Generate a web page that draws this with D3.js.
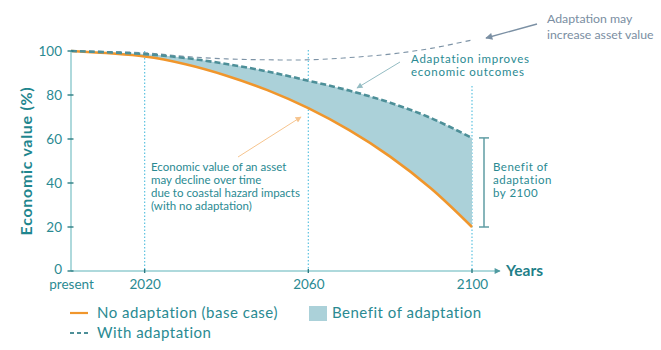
<!DOCTYPE html>
<html><head><meta charset="utf-8">
<script src="https://cdn.jsdelivr.net/npm/d3@7"></script>
<style>
html,body{margin:0;padding:0;background:#fff;}
svg{display:block;font-family:Lato,"Open Sans",sans-serif;}
</style></head>
<body><svg id="c" width="661" height="350"></svg>
<script>
const years = [2002, 2020, 2030, 2040, 2050, 2060, 2070, 2080, 2090, 2100];
const noAdaptation = [100, 97.5, 94, 88.8, 82.2, 74, 64, 52, 37.5, 20];
const withAdaptation = [100, 98.6, 96.8, 94.1, 90.7, 86.5, 82, 76.5, 69.5, 60.5];
const mayIncrease = [100, 99.2, 97.5, 96.4, 96, 96, 97, 98.6, 101.2, 105];
const yTicks = [0, 20, 40, 60, 80, 100];
const xTickYears = [2002, 2020, 2060, 2100];
const xTickLabels = ["present", "2020", "2060", "2100"];
const markerYears = [2020, 2060, 2100];

const svg = d3.select("#c");
const x = d3.scaleLinear().domain([2002, 2100]).range([71, 472]);
const y = d3.scaleLinear().domain([0, 100]).range([271, 51]);

const teal = "#2a8a92", axisC = "#93cdd0", tickC = "#2b7b82";
const defs = svg.append("defs");
function marker(id, color, w, h){
  defs.append("marker").attr("id", id).attr("viewBox","0 0 10 10").attr("refX",9).attr("refY",5)
   .attr("markerWidth",w).attr("markerHeight",h).attr("orient","auto").attr("markerUnits","userSpaceOnUse")
   .append("path").attr("d","M0,0L10,5L0,10z").attr("fill",color);
}
marker("axArrow", "#4f9aa0", 7, 6);
marker("orArrow", "#f6c48e", 7, 6);
marker("tlArrow", "#94bcc3", 7, 6);
marker("gyArrow", "#7b90a4", 10, 7);

function multiline(lines, x0, y0, dy, attrs){
  const t = svg.append("text").attr("x", x0).attr("y", y0);
  Object.entries(attrs).forEach(([k,v]) => t.attr(k, v));
  t.selectAll("tspan").data(lines).enter().append("tspan")
    .attr("x", x0).attr("dy", (d,i) => i === 0 ? 0 : dy).text(d => d);
  return t;
}

// dotted vertical markers
const vTop = {2020: 51, 2060: 50, 2100: 86};
svg.selectAll(".vline").data(markerYears).enter().append("line")
  .attr("x1", d => x(d)).attr("x2", d => x(d)).attr("y1", d => vTop[d]).attr("y2", y(0))
  .attr("stroke", "#5cc2e0").attr("stroke-width", 1.2).attr("stroke-dasharray", "1.5,2");

const crv = d3.curveCatmullRom.alpha(0.5);
const area = d3.area().x((d,i) => x(years[i])).y0((d,i) => y(noAdaptation[i])).y1(d => y(d)).curve(crv);
svg.append("path").datum(withAdaptation).attr("d", area).attr("fill", "#abd1d9");

const line = d3.line().x((d,i) => x(years[i])).y(d => y(d)).curve(crv);
svg.append("path").datum(mayIncrease).attr("d", line).attr("fill","none")
  .attr("stroke","#7d93a6").attr("stroke-width",1.1).attr("stroke-dasharray","5,4");
svg.append("path").datum(noAdaptation).attr("d", line).attr("fill","none")
  .attr("stroke","#f0962c").attr("stroke-width",2.6);
svg.append("path").datum(withAdaptation).attr("d", line).attr("fill","none")
  .attr("stroke","#4d8f98").attr("stroke-width",2.6).attr("stroke-dasharray","6,3");

// axes
svg.append("line").attr("x1", x(2002)).attr("x2", x(2002)).attr("y1", y(100)).attr("y2", y(0))
  .attr("stroke", axisC).attr("stroke-width", 1.5);
svg.append("line").attr("x1", x(2002)).attr("x2", 500).attr("y1", y(0)).attr("y2", y(0))
  .attr("stroke", axisC).attr("stroke-width", 1.5).attr("marker-end","url(#axArrow)");

const yAxis = svg.append("g").attr("transform", `translate(${x(2002)},0)`)
  .call(d3.axisLeft(y).tickValues(yTicks).tickSize(0).tickPadding(9));
yAxis.select(".domain").remove();
yAxis.selectAll("text").attr("fill", teal).attr("font-size", 13.5).attr("font-family","Lato,sans-serif");
yAxis.selectAll(".tick").filter(d => d === 0).select("text").attr("dy", "0.2em");
svg.selectAll(".ytk").data(yTicks).enter().append("line")
  .attr("x1", x(2002)-3.5).attr("x2", x(2002)+2.5).attr("y1", d => y(d)).attr("y2", d => y(d))
  .attr("stroke", tickC).attr("stroke-width", 1.4);

const xAxis = svg.append("g").attr("transform", `translate(0,${y(0)})`)
  .call(d3.axisBottom(x).tickValues(xTickYears).tickFormat((d,i) => xTickLabels[i]).tickSize(0).tickPadding(8));
xAxis.select(".domain").remove();
xAxis.selectAll("text").attr("fill", teal).attr("font-size", 13.5).attr("font-family","Lato,sans-serif");
svg.selectAll(".xtk").data(markerYears).enter().append("line")
  .attr("x1", d => x(d)).attr("x2", d => x(d)).attr("y1", y(0)-2).attr("y2", y(0)+2)
  .attr("stroke", tickC).attr("stroke-width", 1.4);

svg.append("text").attr("transform", "translate(32,161) rotate(-90)").attr("text-anchor","middle")
  .attr("fill", "#1f868e").attr("font-weight", "bold").attr("font-size", 16).attr("letter-spacing", 0.7)
  .text("Economic value (%)");
svg.append("text").attr("x", 506).attr("y", 276).attr("fill", "#1f7f88").attr("font-weight","bold")
  .attr("font-size", 15.5).text("Years");

// annotations
multiline(["Economic value of an asset", "may decline over time", "due to coastal hazard impacts", "(with no adaptation)"],
  151, 171, 13, {fill: teal, "font-size": 11.5});
svg.append("line").attr("x1", 238).attr("y1", 157).attr("x2", 301).attr("y2", 117)
  .attr("stroke", "#f6c48e").attr("stroke-width", 1).attr("marker-end","url(#orArrow)");

multiline(["Adaptation improves", "economic outcomes"], 411, 63, 13,
  {fill: teal, "font-size": 11.5, "letter-spacing": 0.75});
svg.append("line").attr("x1", 400).attr("y1", 62).attr("x2", 357).attr("y2", 88)
  .attr("stroke", "#94bcc3").attr("stroke-width", 1).attr("marker-end","url(#tlArrow)");

multiline(["Adaptation may", "increase asset value"], 547, 23, 16, {fill: "#7a8ea2", "font-size": 12.3});
svg.append("line").attr("x1", 537).attr("y1", 24).attr("x2", 486).attr("y2", 38)
  .attr("stroke", "#7b90a4").attr("stroke-width", 1.3).attr("marker-end","url(#gyArrow)");

// bracket
const bx = 484, bTop = y(withAdaptation[withAdaptation.length-1]), bBot = y(noAdaptation[noAdaptation.length-1]);
const br = svg.append("g").attr("stroke", "#5f9ca3").attr("stroke-width", 1.5);
br.append("line").attr("x1", bx).attr("x2", bx).attr("y1", bTop).attr("y2", bBot);
br.append("line").attr("x1", bx-5).attr("x2", bx+5).attr("y1", bTop).attr("y2", bTop);
br.append("line").attr("x1", bx-5).attr("x2", bx+5).attr("y1", bBot).attr("y2", bBot);
multiline(["Benefit of", "adaptation", "by 2100"], 493, 171, 13, {fill: teal, "font-size": 11.5, "letter-spacing": 0.5});

// legend
const lg = svg.append("g").attr("font-size", 15).attr("letter-spacing", 0.5).attr("fill", teal);
lg.append("line").attr("x1", 70).attr("x2", 88).attr("y1", 313).attr("y2", 313).attr("stroke", "#f0962c").attr("stroke-width", 2.2);
lg.append("text").attr("x", 97).attr("y", 318).text("No adaptation (base case)");
lg.append("line").attr("x1", 70).attr("x2", 88).attr("y1", 333).attr("y2", 333).attr("stroke", "#4d8f98").attr("stroke-width", 2.2).attr("stroke-dasharray","4,3");
lg.append("text").attr("x", 97).attr("y", 338).text("With adaptation");
lg.append("rect").attr("x", 309).attr("y", 306).attr("width", 18).attr("height", 15).attr("fill", "#abd1d9");
lg.append("text").attr("x", 332).attr("y", 318).text("Benefit of adaptation");
</script></body></html>
